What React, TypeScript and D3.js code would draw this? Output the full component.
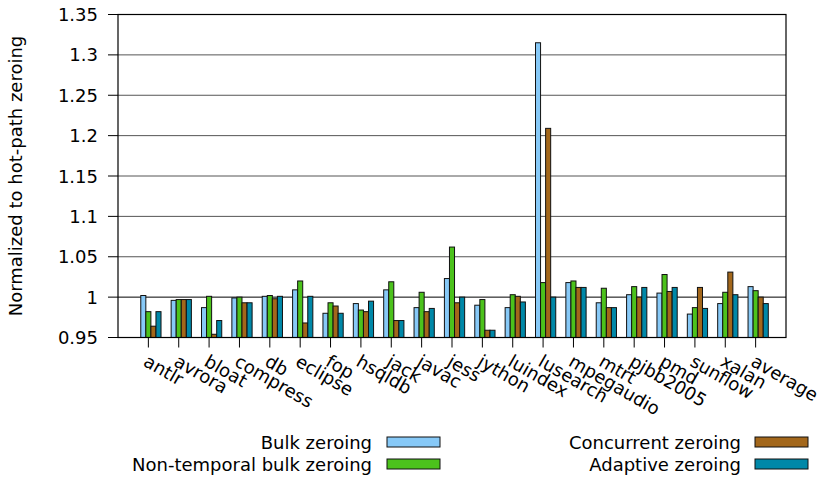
import React from "react";
import * as d3 from "d3";

// Benchmarks (x categories)
const categories = [
  "antlr", "avrora", "bloat", "compress", "db", "eclipse", "fop", "hsqldb",
  "jack", "javac", "jess", "jython", "luindex", "lusearch", "mpegaudio",
  "mtrt", "pjbb2005", "pmd", "sunflow", "xalan", "average",
];

// Series values, normalized to hot-path zeroing
const bulkZeroing = [
  1.002, 0.996, 0.987, 0.999, 1.001, 1.009, 0.980, 0.992, 1.009, 0.987, 1.023,
  0.990, 0.987, 1.315, 1.018, 0.993, 1.003, 1.005, 0.979, 0.992, 1.013,
];
const nonTemporalBulkZeroing = [
  0.982, 0.997, 1.001, 1.000, 1.002, 1.020, 0.993, 0.984, 1.019, 1.006, 1.062,
  0.997, 1.003, 1.018, 1.020, 1.011, 1.013, 1.028, 0.987, 1.006, 1.008,
];
const concurrentZeroing = [
  0.964, 0.997, 0.954, 0.993, 0.998, 0.968, 0.989, 0.982, 0.971, 0.982, 0.993,
  0.959, 1.001, 1.209, 1.012, 0.987, 1.000, 1.007, 1.012, 1.031, 1.000,
];
const adaptiveZeroing = [
  0.982, 0.997, 0.971, 0.993, 1.001, 1.001, 0.980, 0.995, 0.971, 0.986, 1.000,
  0.959, 0.994, 1.000, 1.012, 0.987, 1.012, 1.012, 0.986, 1.003, 0.992,
];

const seriesNames = [
  "Bulk zeroing",
  "Non-temporal bulk zeroing",
  "Concurrent zeroing",
  "Adaptive zeroing",
];
const seriesColors = ["#87c9f7", "#4cc21c", "#a3671b", "#0088a8"];

const yTicks = [0.95, 1.0, 1.05, 1.1, 1.15, 1.2, 1.25, 1.3, 1.35];
const yTickLabels = ["0.95", "1", "1.05", "1.1", "1.15", "1.2", "1.25", "1.3", "1.35"];

const W = 821;
const H = 479;
const FONT = "DejaVu Sans, sans-serif";

export default function App() {
  const series = [bulkZeroing, nonTemporalBulkZeroing, concurrentZeroing, adaptiveZeroing];
  const left = 118;
  const right = 786;
  const top = 14.5;
  const bottom = 337.5;

  const x = d3.scaleLinear().domain([-1, categories.length]).range([left, right]);
  const y = d3.scaleLinear().domain([0.95, 1.35]).range([bottom, top]);
  const barW = 1 / 6;

  return (
    <svg
      width={W}
      height={H}
      style={{ position: "absolute", left: 0, top: 0, background: "#fff" }}
      fontFamily={FONT}
    >
      {/* horizontal grid */}
      {yTicks.map((t, i) => (
        <line
          key={"g" + i}
          x1={left}
          x2={right}
          y1={y(t)}
          y2={y(t)}
          stroke={t === 1.0 ? "#000" : "#555"}
          strokeWidth={1}
        />
      ))}

      {/* bars */}
      {categories.map((c, i) =>
        series.map((vals, j) => {
          const cx = i + (j - 1) * barW;
          const x0 = x(cx - barW / 2);
          const x1 = x(cx + barW / 2);
          const yv = y(vals[i]);
          return (
            <rect
              key={c + j}
              x={x0}
              y={yv}
              width={x1 - x0}
              height={bottom - yv}
              fill={seriesColors[j]}
              stroke="#111"
              strokeWidth={1}
            />
          );
        })
      )}

      {/* frame */}
      <rect x={left} y={top} width={right - left} height={bottom - top} fill="none" stroke="#000" strokeWidth={1.2} />

      {/* y axis ticks and labels */}
      {yTicks.map((t, i) => (
        <g key={"yt" + i}>
          <line x1={left - 10} x2={left} y1={y(t)} y2={y(t)} stroke="#000" strokeWidth={1} />
          <text
            x={98}
            y={y(t)}
            textAnchor="end"
            dominantBaseline="central"
            fontSize={18}
            fill="#000"
          >
            {yTickLabels[i]}
          </text>
        </g>
      ))}

      {/* x axis ticks and labels */}
      {categories.map((c, i) => (
        <g key={"xt" + i}>
          <line x1={x(i)} x2={x(i)} y1={bottom} y2={bottom + 10} stroke="#000" strokeWidth={1} />
          <text
            transform={`translate(${x(i) - 6},${365}) rotate(30)`}
            textAnchor="start"
            fontSize={18}
            fill="#000"
          >
            {c}
          </text>
        </g>
      ))}

      {/* y axis title */}
      <text
        transform={`translate(22,${(top + bottom) / 2}) rotate(-90)`}
        textAnchor="middle"
        fontSize={18}
        fill="#000"
      >
        Normalized to hot-path zeroing
      </text>

      {/* legend */}
      {seriesNames.map((name, j) => {
        const col = j < 2 ? 0 : 1;
        const row = j % 2;
        const textX = col === 0 ? 372 : 741;
        const swX = col === 0 ? 387 : 755;
        const cy = 442 + row * 22;
        return (
          <g key={"lg" + j}>
            <text x={textX} y={cy} textAnchor="end" dominantBaseline="central" fontSize={18} fill="#000">
              {name}
            </text>
            <rect x={swX} y={cy - 5} width={53} height={10} fill={seriesColors[j]} stroke="#111" strokeWidth={1} />
          </g>
        );
      })}
    </svg>
  );
}
